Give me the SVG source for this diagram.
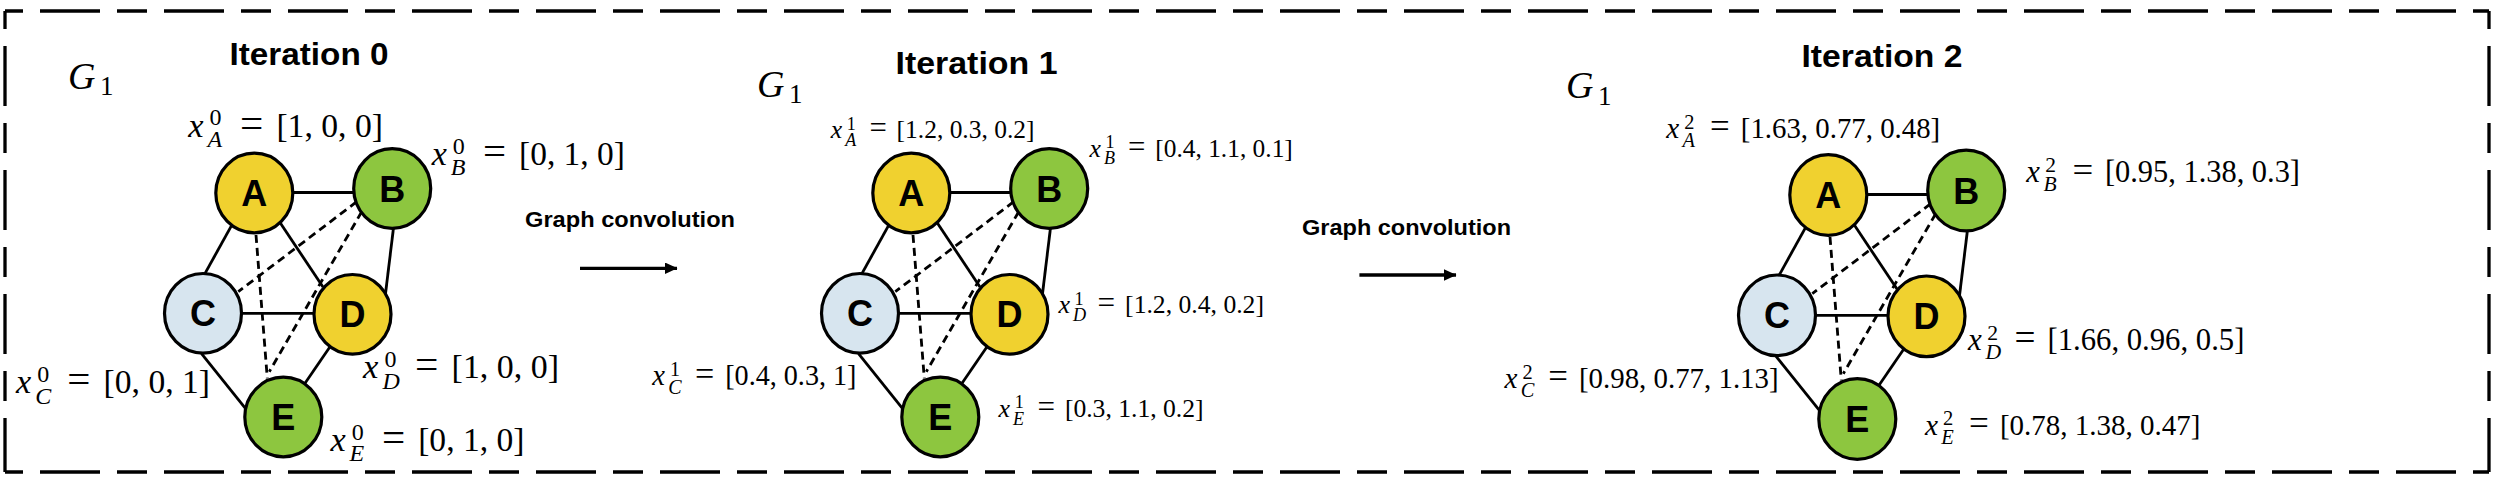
<svg xmlns="http://www.w3.org/2000/svg" width="2500" height="482" viewBox="0 0 2500 482">
<defs>
<style>
.frame{fill:none;stroke:#000;stroke-width:3.3;stroke-dasharray:60 17 30 17;stroke-dashoffset:89}
.edge{fill:none;stroke:#000;stroke-width:2.8}
.dash{stroke-dasharray:8 5}
.node ellipse{stroke:#000;stroke-width:3.2}
.ya{fill:#F0D12F}.gr{fill:#8DC63F}.bl{fill:#D7E5EF}
.nl{font-family:"Liberation Sans",Arial,sans-serif;font-weight:bold;font-size:36px;text-anchor:middle;fill:#000}
.m{font-family:"Liberation Serif","Times New Roman",serif;fill:#000}
.it{font-style:italic}
.eq{font-size:1.2em}
.title{font-family:"Liberation Sans",Arial,sans-serif;font-weight:bold;fill:#000}
.arrow{stroke:#000;stroke-width:3.3;fill:none}
</style>
<marker id="ah" markerUnits="userSpaceOnUse" markerWidth="14" markerHeight="13" refX="12" refY="5.8" orient="auto">
<path d="M0,0 L12.5,5.8 L0,11.6 Z" fill="#000"/>
</marker>
</defs>
<rect width="2500" height="482" fill="#fff"/>
<g id="frame">
<path class="frame" d="M5,11 H2489"/>
<path class="frame" d="M5,11 V472"/>
<path class="frame" d="M5,472 H2489"/>
<path class="frame" d="M2489,11 V472"/>
</g>
<g id="titles">
<text class="title" x="229.5" y="64.5" style="font-size:32px" textLength="159" lengthAdjust="spacingAndGlyphs">Iteration 0</text>
<text class="title" x="895.5" y="74" style="font-size:32px" textLength="162" lengthAdjust="spacingAndGlyphs">Iteration 1</text>
<text class="title" x="1801.5" y="66.7" style="font-size:32px" textLength="161" lengthAdjust="spacingAndGlyphs">Iteration 2</text>
<text class="m it" x="68" y="89.3" style="font-size:38px">G</text><text class="m" x="100" y="95" style="font-size:27px">1</text>
<text class="m it" x="757" y="96.7" style="font-size:38px">G</text><text class="m" x="789" y="103" style="font-size:27px">1</text>
<text class="m it" x="1566" y="98.3" style="font-size:38px">G</text><text class="m" x="1598" y="105" style="font-size:27px">1</text>
<text class="title" x="525" y="226.7" style="font-size:22.5px" textLength="210" lengthAdjust="spacingAndGlyphs">Graph convolution</text>
<text class="title" x="1302" y="235" style="font-size:22.5px" textLength="209" lengthAdjust="spacingAndGlyphs">Graph convolution</text>
</g>
<g id="connectors">
<g id="arrows">
<line class="arrow" x1="580" y1="268.3" x2="677" y2="268.3" marker-end="url(#ah)"/>
<line class="arrow" x1="1359.4" y1="275" x2="1456" y2="275" marker-end="url(#ah)"/>
</g>
<g id="edges-0">
<path class="edge" d="M292,192.5 L355,192.5"/>
<path class="edge" d="M231.5,225.6 L204.5,274.4"/>
<path class="edge" d="M280,222.5 L323,287"/>
<path class="edge" d="M393.6,227 L385.4,294.5"/>
<path class="edge" d="M240,313.3 L316,313.3"/>
<path class="edge" d="M201.5,353.7 L246,409.2"/>
<path class="edge" d="M330,346.8 L305,383.2"/>
<path class="edge dash" d="M256,235 L267.3,378.3"/>
<path class="edge dash" d="M356.7,201.7 L238.3,291.7"/>
<path class="edge dash" d="M361.7,211.7 L269.3,371.7"/>
</g>
<g id="edges-1" transform="translate(657 0)">
<path class="edge" d="M292,192.5 L355,192.5"/>
<path class="edge" d="M231.5,225.6 L204.5,274.4"/>
<path class="edge" d="M280,222.5 L323,287"/>
<path class="edge" d="M393.6,227 L385.4,294.5"/>
<path class="edge" d="M240,313.3 L316,313.3"/>
<path class="edge" d="M201.5,353.7 L246,409.2"/>
<path class="edge" d="M330,346.8 L305,383.2"/>
<path class="edge dash" d="M256,235 L267.3,378.3"/>
<path class="edge dash" d="M356.7,201.7 L238.3,291.7"/>
<path class="edge dash" d="M361.7,211.7 L269.3,371.7"/>
</g>
<g id="edges-2" transform="translate(1574 2)">
<path class="edge" d="M292,192.5 L355,192.5"/>
<path class="edge" d="M231.5,225.6 L204.5,274.4"/>
<path class="edge" d="M280,222.5 L323,287"/>
<path class="edge" d="M393.6,227 L385.4,294.5"/>
<path class="edge" d="M240,313.3 L316,313.3"/>
<path class="edge" d="M201.5,353.7 L246,409.2"/>
<path class="edge" d="M330,346.8 L305,383.2"/>
<path class="edge dash" d="M256,235 L267.3,378.3"/>
<path class="edge dash" d="M356.7,201.7 L238.3,291.7"/>
<path class="edge dash" d="M361.7,211.7 L269.3,371.7"/>
</g>
</g>

<!-- Iteration 0 -->
<g id="it0-A" class="node"><ellipse class="ya" cx="254.3" cy="193" rx="38.5" ry="39.8"/><text class="nl" x="254.3" y="206">A</text>
<text class="m" style="font-size:34.4px"><tspan class="it" x="188.3" y="136.5">x</tspan><tspan x="209.6" y="125.1" style="font-size:24px">0</tspan><tspan class="it" x="207.6" y="146.8" style="font-size:24px">A</tspan><tspan class="eq" x="239.9" y="136.5">=</tspan></text>
<text class="m" x="276.4" y="136.5" style="font-size:34.4px" textLength="106.6" lengthAdjust="spacingAndGlyphs">[1, 0, 0]</text></g>
<g id="it0-B" class="node"><ellipse class="gr" cx="392.2" cy="188.5" rx="38.5" ry="39.8"/><text class="nl" x="392.2" y="201.5">B</text>
<text class="m" style="font-size:34.1px"><tspan class="it" x="431.7" y="165">x</tspan><tspan x="452.8" y="153.7" style="font-size:24px">0</tspan><tspan class="it" x="450.8" y="175.2" style="font-size:24px">B</tspan><tspan class="eq" x="482.9" y="165">=</tspan></text>
<text class="m" x="519" y="165" style="font-size:34.1px" textLength="106" lengthAdjust="spacingAndGlyphs">[0, 1, 0]</text></g>
<g id="it0-C" class="node"><ellipse class="bl" cx="203" cy="313.3" rx="38.5" ry="39.8"/><text class="nl" x="203" y="326.3">C</text>
<text class="m" style="font-size:34.2px"><tspan class="it" x="16" y="393.3">x</tspan><tspan x="37.2" y="382" style="font-size:24px">0</tspan><tspan class="it" x="35.2" y="403.6" style="font-size:24px">C</tspan><tspan class="eq" x="67.3" y="393.3">=</tspan></text>
<text class="m" x="103.6" y="393.3" style="font-size:34.2px" textLength="106.4" lengthAdjust="spacingAndGlyphs">[0, 0, 1]</text></g>
<g id="it0-D" class="node"><ellipse class="ya" cx="352.5" cy="314.3" rx="38.5" ry="39.8"/><text class="nl" x="352.5" y="327.3">D</text>
<text class="m" style="font-size:34.6px"><tspan class="it" x="363" y="378.3">x</tspan><tspan x="384.5" y="366.9" style="font-size:24px">0</tspan><tspan class="it" x="382.4" y="388.7" style="font-size:24px">D</tspan><tspan class="eq" x="414.9" y="378.3">=</tspan></text>
<text class="m" x="451.6" y="378.3" style="font-size:34.6px" textLength="107.4" lengthAdjust="spacingAndGlyphs">[1, 0, 0]</text></g>
<g id="it0-E" class="node"><ellipse class="gr" cx="283.3" cy="417" rx="38.5" ry="39.8"/><text class="nl" x="283.3" y="430">E</text>
<text class="m" style="font-size:34.3px"><tspan class="it" x="330.4" y="451">x</tspan><tspan x="351.7" y="439.7" style="font-size:24px">0</tspan><tspan class="it" x="349.6" y="461.3" style="font-size:24px">E</tspan><tspan class="eq" x="381.9" y="451">=</tspan></text>
<text class="m" x="418.2" y="451" style="font-size:34.3px" textLength="106.3" lengthAdjust="spacingAndGlyphs">[0, 1, 0]</text></g>

<!-- Iteration 1 -->
<g id="it1-A" class="node"><ellipse class="ya" cx="911.3" cy="193" rx="38.5" ry="39.8"/><text class="nl" x="911.3" y="206">A</text>
<text class="m" style="font-size:25.7px"><tspan class="it" x="830.8" y="138.3">x</tspan><tspan x="846.7" y="129.8" style="font-size:18px">1</tspan><tspan class="it" x="845.2" y="146" style="font-size:18px">A</tspan><tspan class="eq" x="869.4" y="138.3">=</tspan></text>
<text class="m" x="896.6" y="138.3" style="font-size:25.7px" textLength="137.9" lengthAdjust="spacingAndGlyphs">[1.2, 0.3, 0.2]</text></g>
<g id="it1-B" class="node"><ellipse class="gr" cx="1049.2" cy="188.5" rx="38.5" ry="39.8"/><text class="nl" x="1049.2" y="201.5">B</text>
<text class="m" style="font-size:25.7px"><tspan class="it" x="1089.5" y="156.7">x</tspan><tspan x="1105.4" y="148.2" style="font-size:18px">1</tspan><tspan class="it" x="1103.9" y="164.4" style="font-size:18px">B</tspan><tspan class="eq" x="1128.1" y="156.7">=</tspan></text>
<text class="m" x="1155.3" y="156.7" style="font-size:25.7px" textLength="137.5" lengthAdjust="spacingAndGlyphs">[0.4, 1.1, 0.1]</text></g>
<g id="it1-C" class="node"><ellipse class="bl" cx="860" cy="313.3" rx="38.5" ry="39.8"/><text class="nl" x="860" y="326.3">C</text>
<text class="m" style="font-size:28.5px"><tspan class="it" x="652.2" y="385">x</tspan><tspan x="669.9" y="375.6" style="font-size:20px">1</tspan><tspan class="it" x="668.2" y="393.6" style="font-size:20px">C</tspan><tspan class="eq" x="694.9" y="385">=</tspan></text>
<text class="m" x="725.2" y="385" style="font-size:28.5px" textLength="131.3" lengthAdjust="spacingAndGlyphs">[0.4, 0.3, 1]</text></g>
<g id="it1-D" class="node"><ellipse class="ya" cx="1009.5" cy="314.3" rx="38.5" ry="39.8"/><text class="nl" x="1009.5" y="327.3">D</text>
<text class="m" style="font-size:26px"><tspan class="it" x="1058.5" y="313.3">x</tspan><tspan x="1074.6" y="304.7" style="font-size:18.2px">1</tspan><tspan class="it" x="1073.1" y="321.1" style="font-size:18.2px">D</tspan><tspan class="eq" x="1097.5" y="313.3">=</tspan></text>
<text class="m" x="1125.1" y="313.3" style="font-size:26px" textLength="138.9" lengthAdjust="spacingAndGlyphs">[1.2, 0.4, 0.2]</text></g>
<g id="it1-E" class="node"><ellipse class="gr" cx="940.3" cy="417" rx="38.5" ry="39.8"/><text class="nl" x="940.3" y="430">E</text>
<text class="m" style="font-size:25.9px"><tspan class="it" x="998.6" y="416.7">x</tspan><tspan x="1014.7" y="408.2" style="font-size:18.1px">1</tspan><tspan class="it" x="1013.1" y="424.5" style="font-size:18.1px">E</tspan><tspan class="eq" x="1037.5" y="416.7">=</tspan></text>
<text class="m" x="1064.9" y="416.7" style="font-size:25.9px" textLength="138.7" lengthAdjust="spacingAndGlyphs">[0.3, 1.1, 0.2]</text></g>

<!-- Iteration 2 -->
<g id="it2-A" class="node"><ellipse class="ya" cx="1828.3" cy="195" rx="38.5" ry="40.3"/><text class="nl" x="1828.3" y="208">A</text>
<text class="m" style="font-size:29.1px"><tspan class="it" x="1666.3" y="138.3">x</tspan><tspan x="1684.3" y="128.7" style="font-size:20.4px">2</tspan><tspan class="it" x="1682.6" y="147" style="font-size:20.4px">A</tspan><tspan class="eq" x="1710" y="138.3">=</tspan></text>
<text class="m" x="1740.8" y="138.3" style="font-size:29.1px" textLength="199.4" lengthAdjust="spacingAndGlyphs">[1.63, 0.77, 0.48]</text></g>
<g id="it2-B" class="node"><ellipse class="gr" cx="1966.2" cy="190.5" rx="38.5" ry="40.3"/><text class="nl" x="1966.2" y="203.5">B</text>
<text class="m" style="font-size:30.7px"><tspan class="it" x="2026.3" y="181.7">x</tspan><tspan x="2045.3" y="171.6" style="font-size:21.5px">2</tspan><tspan class="it" x="2043.5" y="190.9" style="font-size:21.5px">B</tspan><tspan class="eq" x="2072.4" y="181.7">=</tspan></text>
<text class="m" x="2104.9" y="181.7" style="font-size:30.7px" textLength="195.1" lengthAdjust="spacingAndGlyphs">[0.95, 1.38, 0.3]</text></g>
<g id="it2-C" class="node"><ellipse class="bl" cx="1777" cy="315.3" rx="38.5" ry="40.3"/><text class="nl" x="1777" y="328.3">C</text>
<text class="m" style="font-size:29.1px"><tspan class="it" x="1504.5" y="388.3">x</tspan><tspan x="1522.5" y="378.7" style="font-size:20.4px">2</tspan><tspan class="it" x="1520.8" y="397" style="font-size:20.4px">C</tspan><tspan class="eq" x="1548.2" y="388.3">=</tspan></text>
<text class="m" x="1579" y="388.3" style="font-size:29.1px" textLength="199.6" lengthAdjust="spacingAndGlyphs">[0.98, 0.77, 1.13]</text></g>
<g id="it2-D" class="node"><ellipse class="ya" cx="1926.5" cy="316.3" rx="38.5" ry="40.3"/><text class="nl" x="1926.5" y="329.3">D</text>
<text class="m" style="font-size:31px"><tspan class="it" x="1968.1" y="350">x</tspan><tspan x="1987.3" y="339.8" style="font-size:21.7px">2</tspan><tspan class="it" x="1985.5" y="359.3" style="font-size:21.7px">D</tspan><tspan class="eq" x="2014.6" y="350">=</tspan></text>
<text class="m" x="2047.5" y="350" style="font-size:31px" textLength="196.9" lengthAdjust="spacingAndGlyphs">[1.66, 0.96, 0.5]</text></g>
<g id="it2-E" class="node"><ellipse class="gr" cx="1857.3" cy="419" rx="38.5" ry="40.3"/><text class="nl" x="1857.3" y="432">E</text>
<text class="m" style="font-size:29.3px"><tspan class="it" x="1924.9" y="435">x</tspan><tspan x="1943.1" y="425.3" style="font-size:20.5px">2</tspan><tspan class="it" x="1941.3" y="443.8" style="font-size:20.5px">E</tspan><tspan class="eq" x="1968.9" y="435">=</tspan></text>
<text class="m" x="1999.9" y="435" style="font-size:29.3px" textLength="200.5" lengthAdjust="spacingAndGlyphs">[0.78, 1.38, 0.47]</text></g>
</svg>
